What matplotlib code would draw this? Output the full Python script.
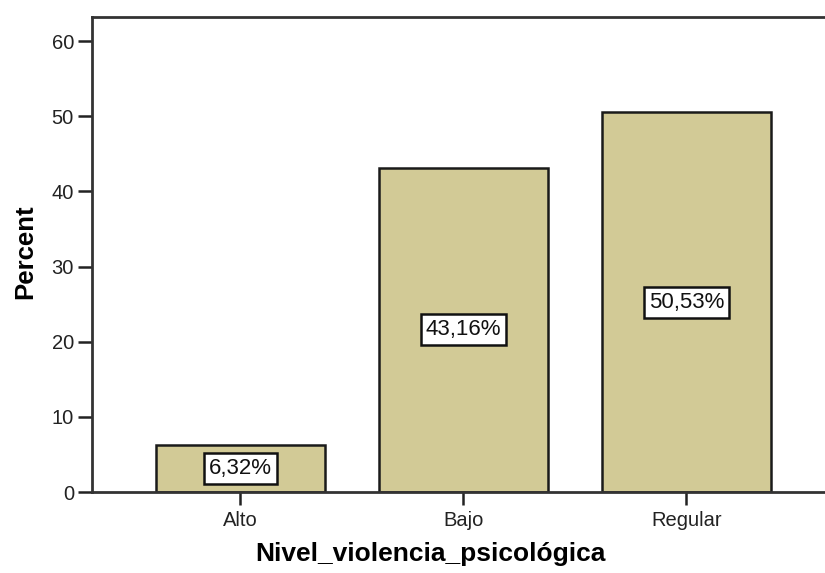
import matplotlib
matplotlib.use("Agg")
import matplotlib.pyplot as plt

categories = ["Alto", "Bajo", "Regular"]
percent = [6.32, 43.16, 50.53]
labels = ["6,32%", "43,16%", "50,53%"]

plt.rcParams['font.family'] = ['Liberation Sans', 'DejaVu Sans']

fig = plt.figure(figsize=(8.25, 5.73), dpi=100)
ax = fig.add_axes([92/825, 81/573, 732/825, 475/573])

x = list(range(len(categories)))
ax.bar(x, percent, width=0.755, color='#D2CA96', edgecolor='#1a1a1a', linewidth=1.8, zorder=2)
for xi, v, lab in zip(x, percent, labels):
    ax.text(xi, v / 2, lab, ha='center', va='center', fontsize=16, color='#111111',
            bbox=dict(boxstyle='square,pad=0.22', facecolor='white', edgecolor='#111111', linewidth=1.8),
            zorder=3)

ax.set_xlim(-0.666, 2.617)
ax.set_ylim(0, 63.2)
ax.set_yticks([0, 10, 20, 30, 40, 50, 60])
ax.set_xticks(x)
ax.set_xticklabels(categories)
ax.tick_params(axis='both', direction='out', length=10, width=1.8, labelsize=14.5, colors='#222222', pad=3)
ax.tick_params(axis='x', length=9, pad=5)
for s in ['left', 'bottom', 'top']:
    ax.spines[s].set_linewidth(2)
    ax.spines[s].set_color('#333333')
ax.spines['right'].set_visible(False)

ax.set_ylabel("Percent", fontsize=18.5, fontweight='bold')
ax.set_xlabel("Nivel_violencia_psicológica", fontsize=19, fontweight='bold')
ax.yaxis.set_label_coords(-0.0915, 0.505)
ax.xaxis.set_label_coords(0.463, -0.13)
ax.xaxis.label.set_va('center')
ax.yaxis.label.set_va('center')

fig.savefig("out.png", dpi=100)
